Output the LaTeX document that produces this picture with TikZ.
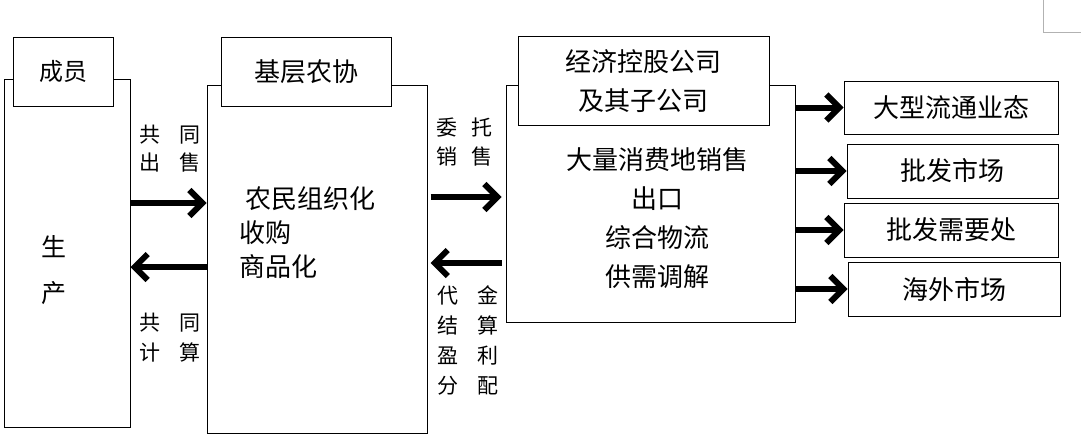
\documentclass[tikz,border=0pt]{standalone}
\usepackage{fontspec}
\newfontfamily\cjk{Noto Sans CJK SC}
\usetikzlibrary{arrows.meta}
\tikzset{
  box/.style={draw, line width=1pt, fill=white, inner sep=0pt, align=center,
    font=\cjk\fontsize{26}{39}\selectfont},
  arr/.style={line width=6pt, -{Straight Barb[length=13pt,width=26pt]}},
  lab/.style={font=\cjk\fontsize{21}{30}\selectfont, align=left, inner sep=0pt},
  txt/.style={font=\cjk\fontsize{26}{34}\selectfont, inner sep=0pt},
}
\begin{document}
\begin{tikzpicture}[x=1pt,y=-1pt]
\useasboundingbox (0,0) rectangle (1081,447);
% corner of an outside frame
\draw[gray!60, line width=1pt] (1043,0) -- (1043,32) -- (1081,32);
% big boxes
\node[box, minimum width=126pt, minimum height=348pt] (b1) at (67,253) {};
\node[box, minimum width=220pt, minimum height=348pt] (b2) at (317,259) {};
\node[box, minimum width=289pt, minimum height=237pt] (b3) at (650.5,203.5) {};
% title boxes
\node[box, minimum width=100pt, minimum height=69pt, font=\cjk\fontsize{24}{30}\selectfont] (m1) at (63,71.5) {成员};
\node[box, minimum width=170pt, minimum height=69pt] (m2) at (306,71.5) {基层农协};
\node[box, minimum width=251pt, minimum height=89pt] (m3) at (643.5,81) {经济控股公司\\及其子公司};
% right boxes
\node[box, minimum width=214pt, minimum height=53pt] (r1) at (951,107.5) {大型流通业态};
\node[box, minimum width=211pt, minimum height=54pt] (r2) at (952.5,171) {批发市场};
\node[box, minimum width=214pt, minimum height=54pt] (r3) at (951,230) {批发需要处};
\node[box, minimum width=212pt, minimum height=54pt] (r4) at (954,289) {海外市场};
% texts in big boxes
\node[txt, font=\cjk\fontsize{25}{46}\selectfont, align=center] (t1) at (54,270) {生\\产};
\node[txt, anchor=west] (t2a) at (245,199) {农民组织化};
\node[txt, anchor=west] (t2b) at (239,233) {收购};
\node[txt, anchor=west] (t2c) at (239,267) {商品化};
\node[txt, font=\cjk\fontsize{26}{39}\selectfont, align=center] (t3) at (657,218.5) {大量消费地销售\\出口\\综合物流\\供需调解};
% labels
\node[lab, font=\cjk\fontsize{21}{28}\selectfont] (l1) at (170,149) {共\hspace{19pt}同\\出\hspace{19pt}售};
\node[lab, font=\cjk\fontsize{21}{30}\selectfont] (l2) at (170,338) {共\hspace{19pt}同\\计\hspace{19pt}算};
\node[lab, font=\cjk\fontsize{21}{29}\selectfont] (l3) at (464.5,142.5) {委\hspace{14pt}托\\销\hspace{14pt}售};
\node[lab, font=\cjk\fontsize{21}{30}\selectfont] (l4) at (468,340) {代\hspace{19pt}金\\结\hspace{19pt}算\\盈\hspace{19pt}利\\分\hspace{19pt}配};
% arrows
\draw[arr] (b1.east |- 0,203) -- (b2.west |- 0,203);
\draw[arr] (b2.west |- 0,267) -- (b1.east |- 0,267);
\draw[arr, shorten <=3pt, shorten >=4pt] (b2.east |- 0,197) -- (b3.west |- 0,197);
\draw[arr, shorten <=4pt, shorten >=3pt] (b3.west |- 0,263) -- (b2.east |- 0,263);
\draw[arr] (b3.east |- r1.west) -- (r1.west);
\draw[arr] (b3.east |- r2.west) -- (r2.west);
\draw[arr] (b3.east |- r3.west) -- (r3.west);
\draw[arr] (b3.east |- r4.west) -- (r4.west);
\end{tikzpicture}
\end{document}
